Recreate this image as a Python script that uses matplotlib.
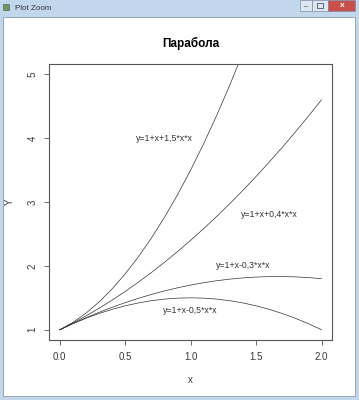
import matplotlib
matplotlib.use("Agg")
import matplotlib.pyplot as plt
from matplotlib.patches import Rectangle

plt.rcParams['font.family'] = ['Liberation Sans', 'DejaVu Sans']

# values
x = [0.0, 0.1, 0.2, 0.3, 0.4, 0.5, 0.6, 0.7, 0.8, 0.9, 1.0,
     1.1, 1.2, 1.3, 1.4, 1.5, 1.6, 1.7, 1.8, 1.9, 2.0]
y_p15 = [1.0, 1.115, 1.26, 1.435, 1.64, 1.875, 2.14, 2.435, 2.76, 3.115, 3.5,
         3.915, 4.36, 4.835, 5.34, 5.875]
y_p04 = [1.0, 1.104, 1.216, 1.336, 1.464, 1.6, 1.744, 1.896, 2.056, 2.224, 2.4,
         2.584, 2.776, 2.976, 3.184, 3.4, 3.624, 3.856, 4.096, 4.344, 4.6]
y_m03 = [1.0, 1.097, 1.188, 1.273, 1.352, 1.425, 1.492, 1.553, 1.608, 1.657, 1.7,
         1.737, 1.768, 1.793, 1.812, 1.825, 1.832, 1.833, 1.828, 1.817, 1.8]
y_m05 = [1.0, 1.095, 1.18, 1.255, 1.32, 1.375, 1.42, 1.455, 1.48, 1.495, 1.5,
         1.495, 1.48, 1.455, 1.42, 1.375, 1.32, 1.255, 1.18, 1.095, 1.0]

labels = ["y=1+x+1,5*x*x", "y=1+x+0,4*x*x", "y=1+x-0,3*x*x", "y=1+x-0,5*x*x"]
label_x = [0.8, 1.6, 1.4, 1.0]
label_y = [4.0, 2.8, 2.0, 1.3]

xticks = [0.0, 0.5, 1.0, 1.5, 2.0]
xtick_labels = ["0.0", "0.5", "1.0", "1.5", "2.0"]
yticks = [1, 2, 3, 4, 5]

W, H = 359, 400
fig = plt.figure(figsize=(W / 100, H / 100), dpi=100)
fig.patch.set_facecolor('#c3d7ec')


def px(x0, y0, w, h):
    # pixel box (top-left origin) -> figure fraction
    return (x0 / W, 1 - (y0 + h) / H), w / W, h / H


# window chrome
xy, w, h = px(3, 17, 352, 379)
fig.add_artist(Rectangle(xy, w, h, transform=fig.transFigure, zorder=-10,
                         facecolor='white', edgecolor='#8a9bb0', lw=0.6))
for bx, bw, col in [(300, 12, '#dce7f3'), (312, 16, '#dce7f3'), (328, 27, '#c9504a')]:
    xy, w, h = px(bx, 0, bw, 11)
    fig.add_artist(Rectangle(xy, w, h, transform=fig.transFigure,
                             facecolor=col, edgecolor='#7d8ea3', lw=0.5))
fig.text(342 / W, 1 - 5.5 / H, "x", color='white', fontsize=6, fontweight='bold',
         ha='center', va='center')
fig.text(306 / W, 1 - 6.5 / H, "\u2013", color='#333333', fontsize=5,
         ha='center', va='center')
xy, w, h = px(317, 3, 6, 5)
fig.add_artist(Rectangle(xy, w, h, transform=fig.transFigure,
                         facecolor='none', edgecolor='#333333', lw=0.5))
xy, w, h = px(3, 4, 6, 6)
fig.add_artist(Rectangle(xy, w, h, transform=fig.transFigure,
                         facecolor='#6a9a5a', edgecolor='#556677', lw=0.5))
fig.text(15 / W, 1 - 8.5 / H, "Plot Zoom", color='#333333', fontsize=5.8,
         ha='left', va='center')

# plot region
ax = fig.add_axes([49.3 / W, 1 - 340 / H, (332 - 49.3) / W, (340 - 64) / H])
ax.set_facecolor('white')

for ys in [y_p15, y_p04, y_m03, y_m05]:
    ax.plot(x[:len(ys)], ys, color='#333333', lw=0.5)

for t, tx, ty in zip(labels, label_x, label_y):
    ax.text(tx, ty, t, fontsize=6.3, ha='center', va='center', color='#333333')

ax.set_xlim(-0.08, 2.08)
ax.set_ylim(0.84, 5.16)
ax.set_xticks(xticks)
ax.set_xticklabels(xtick_labels)
ax.set_yticks(yticks)
ax.set_yticklabels([str(v) for v in yticks], rotation=90, va='center')

for s in ax.spines.values():
    s.set_color('#555555')
    s.set_linewidth(0.8)
ax.tick_params(direction='out', length=3.6, width=0.6, color='#555555',
               labelsize=7, labelcolor='#3a3a3a', pad=5)

fig.text(190.6 / W, 1 - 43 / H, "Парабола", fontsize=8.5, fontweight='bold',
         ha='center', va='center')
fig.text(190.6 / W, 1 - 380 / H, "x", fontsize=7, color='#3a3a3a',
         ha='center', va='center')
fig.text(10 / W, 1 - 202 / H, "Y", fontsize=7, color='#3a3a3a', rotation=90,
         ha='center', va='center')

fig.savefig("out.png", dpi=100, facecolor=fig.get_facecolor())
